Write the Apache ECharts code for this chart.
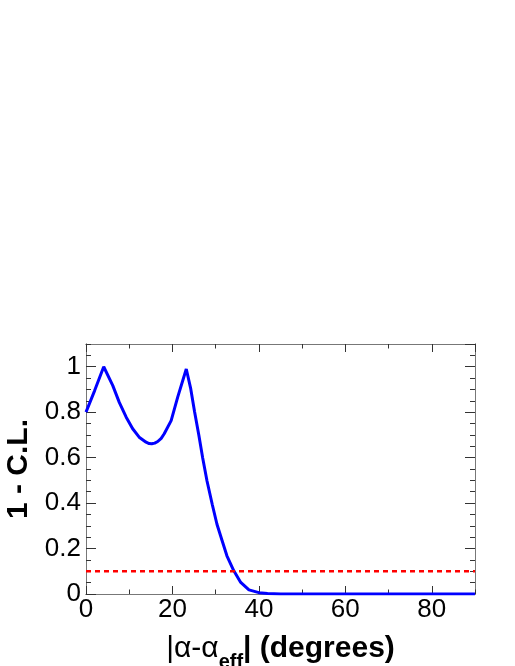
<!DOCTYPE html>
<html>
<head>
<meta charset="utf-8">
<script src="https://cdn.jsdelivr.net/npm/echarts@6/dist/echarts.min.js"></script>
<style>
  html, body { margin: 0; padding: 0; background: #fff; }
  #chart { width: 515px; height: 666px; }
</style>
</head>
<body>
<div id="chart"></div>
<script>
// curve: |alpha - alpha_eff| vs 1 - C.L.
var alphaDiff = [0, 2, 4.1, 6.2, 7.7, 9.3, 10.8, 12.3, 13.9, 14.6, 15.2, 15.9, 16.6, 17.4, 18.1, 19.7, 21.2, 23.2,
                 24.2, 25.1, 26.1, 27.0, 28.0, 29.2, 30.3, 31.5, 32.6, 34.2, 35.8, 37.7, 40, 42, 45, 50, 60, 70, 80, 90];
var oneMinusCL = [0.80, 0.895, 1.0, 0.917, 0.843, 0.778, 0.727, 0.69, 0.668, 0.662, 0.661, 0.664, 0.671, 0.685, 0.705, 0.763, 0.865, 0.99,
                  0.906, 0.804, 0.70, 0.598, 0.497, 0.395, 0.307, 0.234, 0.168, 0.102, 0.051, 0.018, 0.006, 0.002, 0.0005, 0, 0, 0, 0, 0];

// 10% reference level
var refX = [0, 90];
var refY = [0.1, 0.1];

var FONT = "'Liberation Sans', Arial, Helvetica, sans-serif";
var frameColor = '#777';
var tickColor = '#333';

function zip(xs, ys) {
	var out = [];
	for (var i = 0; i < xs.length; i++) {
		out.push([xs[i], ys[i]]);
	}
	return out;
}

// one axis of the frame; major ones carry the labels
function xAxisDef(pos, step, tickLen, withLabels) {
	return {
		type: 'value', position: pos, min: 0, max: 90, interval: step,
		axisLine: { show: true, onZero: false, lineStyle: { color: frameColor, width: 1 } },
		axisTick: { show: true, inside: true, length: tickLen, lineStyle: { color: tickColor, width: 1 } },
		axisLabel: { show: withLabels, margin: 3, color: '#000', fontSize: 26, fontFamily: FONT, showMaxLabel: false },
		splitLine: { show: false }
	};
}

function yAxisDef(pos, step, tickLen, withLabels) {
	return {
		type: 'value', position: pos, min: 0, max: 1.1, interval: step,
		axisLine: { show: true, onZero: false, lineStyle: { color: frameColor, width: 1 } },
		axisTick: { show: true, inside: true, length: tickLen, lineStyle: { color: tickColor, width: 1 } },
		axisLabel: { show: withLabels, margin: 5, color: '#000', fontSize: 26, fontFamily: FONT, showMaxLabel: false },
		splitLine: { show: false }
	};
}

var xMain = xAxisDef('bottom', 20, 8, true);
xMain.name = '{a|\u007c\u03b1-\u03b1}{b|eff}{c|\u007c (degrees)}';
xMain.nameLocation = 'middle';
xMain.nameGap = 40;
xMain.nameTextStyle = {
	color: '#000', fontFamily: FONT,
	rich: {
		a: { fontSize: 30, fontFamily: FONT, color: '#000', verticalAlign: 'bottom', padding: [0, 0, 8, 0] },
		b: { fontSize: 20, fontFamily: FONT, fontWeight: 'bold', color: '#000', verticalAlign: 'bottom' },
		c: { fontSize: 30, fontFamily: FONT, fontWeight: 'bold', color: '#000', verticalAlign: 'bottom', padding: [0, 0, 8, 0] }
	}
};

var yMain = yAxisDef('left', 0.2, 10, true);
yMain.name = '1 - C.L.';
yMain.nameLocation = 'middle';
yMain.nameGap = 48;
yMain.nameTextStyle = { color: '#000', fontSize: 30, fontWeight: 'bold', fontFamily: FONT };

var chart = echarts.init(document.getElementById('chart'), null, { renderer: 'canvas' });

var option = {
	animation: false,
	backgroundColor: '#fff',
	grid: { left: 86, top: 344, width: 389, height: 250, containLabel: false, outerBoundsMode: 'none' },
	xAxis: [
		xMain,
		xAxisDef('bottom', 10, 4.5, false),
		xAxisDef('top', 20, 8, false),
		xAxisDef('top', 10, 4.5, false)
	],
	yAxis: [
		yMain,
		yAxisDef('left', 0.05, 5, false),
		yAxisDef('right', 0.2, 10, false),
		yAxisDef('right', 0.05, 5, false)
	],
	series: [
		{
			type: 'line', xAxisIndex: 0, yAxisIndex: 0,
			data: zip(alphaDiff, oneMinusCL),
			showSymbol: false, symbol: 'none',
			lineStyle: { color: '#0000ff', width: 3 },
			clip: true
		},
		{
			type: 'line', xAxisIndex: 0, yAxisIndex: 0,
			data: zip(refX, refY),
			showSymbol: false, symbol: 'none',
			lineStyle: { color: '#ff0000', width: 2.5, type: [5, 4] }
		}
	]
};

chart.setOption(option);
</script>
</body>
</html>
